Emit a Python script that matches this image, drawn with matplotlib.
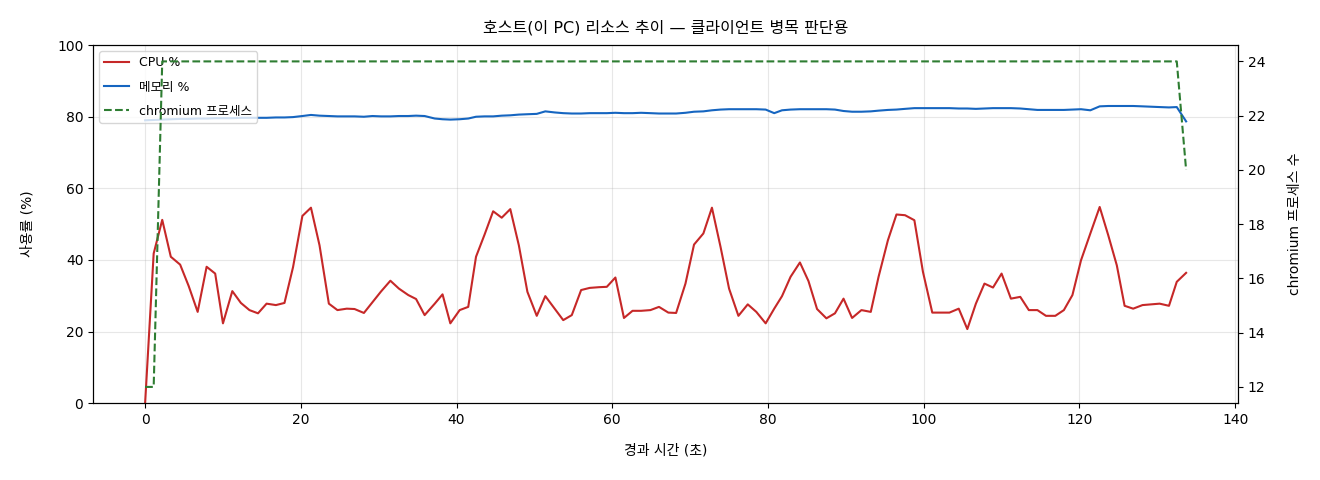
import matplotlib
matplotlib.use("Agg")
import matplotlib.pyplot as plt

plt.rcParams['font.family'] = ['DejaVu Sans', 'Noto Sans CJK KR']
plt.rcParams['axes.unicode_minus'] = False

# elapsed time (s)
elapsed = [0.0, 1.1, 2.2, 3.3, 4.5, 5.6, 6.75, 7.9, 9.0, 10.0, 11.2, 12.3, 13.4, 14.5, 15.6,
           16.8, 17.9, 19.0, 20.2, 21.3, 22.4, 23.6, 24.7, 25.9, 26.9, 28.1, 29.2, 30.3,
           31.5, 32.6, 33.8, 34.8, 35.9, 37.2, 38.2, 39.2, 40.4, 41.5, 42.5, 43.6, 44.7,
           45.8, 46.9, 48.0, 49.1, 50.3, 51.4, 52.6, 53.7, 54.8, 56.0, 57.1, 58.3, 59.3,
           60.4, 61.5, 62.6, 63.7, 64.9, 66.0, 67.2, 68.2, 69.4, 70.5, 71.7, 72.8, 73.9,
           75.0, 76.2, 77.4, 78.5, 79.7, 80.8, 81.8, 82.9, 84.1, 85.2, 86.3, 87.5, 88.6,
           89.7, 90.8, 92.0, 93.2, 94.2, 95.4, 96.5, 97.6, 98.8, 99.9, 101.1, 102.2, 103.3,
           104.5, 105.6, 106.7, 107.8, 108.9, 110.0, 111.2, 112.4, 113.5, 114.6, 115.7,
           116.9, 118.0, 119.1, 120.2, 121.4, 122.6, 123.7, 124.8, 125.8, 126.9, 128.1,
           129.2, 130.3, 131.5, 132.5, 133.7]

cpu = [0.0, 41.8, 51.2, 40.9, 38.7, 32.7, 25.5, 38.1, 36.2, 22.3, 31.3, 28.0, 26.0, 25.1,
       27.8, 27.4, 28.0, 38.0, 52.3, 54.6, 44.1, 27.8, 26.0, 26.4, 26.3, 25.2, 28.2, 31.2,
       34.2, 32.0, 30.2, 29.1, 24.6, 27.8, 30.4, 22.3, 26.0, 26.9, 40.9, 47.1, 53.6, 51.8,
       54.2, 44.1, 31.1, 24.4, 29.9, 26.4, 23.2, 24.6, 31.6, 32.2, 32.4, 32.5, 35.1, 23.8,
       25.8, 25.8, 26.0, 26.9, 25.3, 25.2, 33.4, 44.3, 47.4, 54.6, 43.7, 32.0, 24.4, 27.6,
       25.5, 22.3, 26.4, 29.9, 35.3, 39.3, 34.1, 26.3, 23.7, 25.1, 29.2, 23.8, 26.0, 25.5,
       35.3, 45.5, 52.7, 52.5, 51.1, 36.7, 25.3, 25.3, 25.3, 26.4, 20.7, 27.8, 33.4, 32.3,
       36.2, 29.2, 29.7, 26.0, 26.0, 24.4, 24.4, 26.0, 30.2, 39.9, 47.4, 54.8, 46.9, 38.5,
       27.2, 26.4, 27.4, 27.6, 27.8, 27.2, 33.9, 36.4]

memory = [79.0, 79.1, 79.2, 79.3, 79.4, 79.4, 79.5, 79.5, 79.6, 79.6, 79.6, 79.7, 79.7, 79.7,
          79.7, 79.8, 79.8, 79.9, 80.2, 80.5, 80.3, 80.2, 80.1, 80.1, 80.1, 80.0, 80.2, 80.1,
          80.1, 80.2, 80.2, 80.3, 80.2, 79.5, 79.3, 79.2, 79.3, 79.5, 80.0, 80.1, 80.1, 80.3,
          80.4, 80.6, 80.7, 80.8, 81.5, 81.2, 81.0, 80.9, 80.9, 81.0, 81.0, 81.0, 81.1, 81.0,
          81.0, 81.1, 81.0, 80.9, 80.9, 80.9, 81.1, 81.4, 81.5, 81.8, 82.0, 82.1, 82.1, 82.1,
          82.1, 82.0, 81.0, 81.8, 82.0, 82.1, 82.1, 82.1, 82.1, 82.0, 81.6, 81.4, 81.4, 81.5,
          81.7, 81.9, 82.0, 82.2, 82.4, 82.4, 82.4, 82.4, 82.4, 82.3, 82.3, 82.2, 82.3, 82.4,
          82.4, 82.4, 82.3, 82.1, 81.9, 81.9, 81.9, 81.9, 82.0, 82.1, 81.8, 82.9, 83.0, 83.0,
          83.0, 83.0, 82.9, 82.8, 82.7, 82.6, 82.7, 78.7]

# chromium process count: 12 for the first two samples, 24 afterwards, 20 at the end
chromium = [12, 12] + [24] * 117 + [20]

fig, ax = plt.subplots(figsize=(13.2, 4.8), dpi=100)
fig.subplots_adjust(left=0.0705, right=0.938, top=0.906, bottom=0.16)

l1, = ax.plot(elapsed, cpu, color='#c62828', lw=1.5, label='CPU %')
l2, = ax.plot(elapsed, memory, color='#1565c0', lw=1.5, label='메모리 %')
ax.set_ylim(0, 100)
ax.set_xticks([0, 20, 40, 60, 80, 100, 120, 140])
ax.set_xlabel('경과 시간 (초)', fontsize=10, labelpad=12)
ax.set_ylabel('사용률 (%)', fontsize=10, labelpad=16)
ax.grid(True, alpha=0.3)
ax.tick_params(labelsize=10)

ax2 = ax.twinx()
l3, = ax2.plot(elapsed, chromium, color='#2e7d32', lw=1.5, ls='--', label='chromium 프로세스')
ax2.set_ylabel('chromium 프로세스 수', fontsize=10, labelpad=16)
ax2.tick_params(labelsize=10)

ax.set_title('호스트(이 PC) 리소스 추이 — 클라이언트 병목 판단용', fontsize=11.5, pad=9)
ax.legend(handles=[l1, l2, l3], loc='upper left', fontsize=9, labelspacing=0.9)

fig.savefig('out.png', dpi=100)
